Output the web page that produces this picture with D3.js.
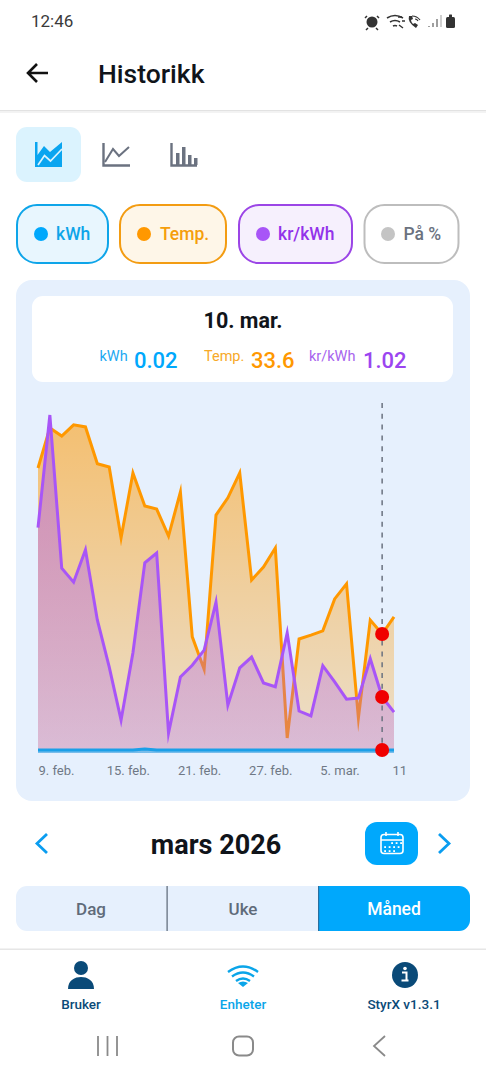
<!DOCTYPE html>
<html>
<head>
<meta charset="utf-8">
<script src="https://cdn.jsdelivr.net/npm/d3@7"></script>
<style>
  html, body { margin: 0; padding: 0; background: #fff; }
  svg { display: block; }
  text { font-family: Roboto, sans-serif; }
</style>
</head>
<body>
<svg width="486" height="1080"></svg>
<script>
// chart data
const days = ["9. feb.","10. feb.","11. feb.","12. feb.","13. feb.","14. feb.","15. feb.","16. feb.","17. feb.","18. feb.",
  "19. feb.","20. feb.","21. feb.","22. feb.","23. feb.","24. feb.","25. feb.","26. feb.","27. feb.","28. feb.",
  "1. mar.","2. mar.","3. mar.","4. mar.","5. mar.","6. mar.","7. mar.","8. mar.","9. mar.","10. mar.","11. mar."];
const temp = [80.9,92.3,90.0,93.2,92.6,82.1,81.2,61.0,79.5,70.1,69.2,61.5,74.1,32.8,23.6,67.5,72.4,79.5,49.0,52.7,58.1,4.0,32.2,33.3,34.5,43.6,47.9,9.7,37.6,33.6,38.5];
const price = [4.16,6.25,3.41,3.15,3.75,2.45,1.58,0.59,1.84,3.51,3.69,0.35,1.39,1.61,1.89,2.78,0.87,1.56,1.76,1.28,1.21,2.21,0.76,0.67,1.60,1.30,0.98,1.00,1.73,1.02,0.74];
const kwh = [0.02,0.02,0.02,0.02,0.02,0.02,0.02,0.02,0.02,0.03,0.02,0.02,0.02,0.02,0.02,0.02,0.02,0.02,0.02,0.02,0.02,0.02,0.02,0.02,0.02,0.02,0.02,0.02,0.02,0.02,0.02];
const tickDays = ["9. feb.","15. feb.","21. feb.","27. feb.","5. mar.","11. mar."];
const tickLabels = ["9. feb.","15. feb.","21. feb.","27. feb.","5. mar.","11"];
const selectedDay = "10. mar.";

const svg = d3.select("svg");

const BLUE = "#00a8fc", ORANGE = "#ff9800", PURPLE = "#a855f7", GREY = "#6b7280", NAVY = "#0a4a78";

function label(x, y, str, size, weight, fill, anchor) {
  return svg.append("text").attr("x", x).attr("y", y).text(str)
    .attr("font-size", size).attr("font-weight", weight).attr("fill", fill)
    .attr("text-anchor", anchor || "start");
}
function box(x, y, w, h, r, fill, stroke) {
  return svg.append("rect").attr("x", x).attr("y", y).attr("width", w).attr("height", h)
    .attr("rx", r).attr("fill", fill).attr("stroke", stroke || "none").attr("stroke-width", 2);
}
function icon(d, fill, stroke, sw) {
  return svg.append("path").attr("d", d).attr("fill", fill || "none")
    .attr("stroke", stroke || "none").attr("stroke-width", sw || 0);
}

// status bar
label(31, 27, "12:46", 17, 400, "#3a3a3a");
const st = "#333";
svg.append("circle").attr("cx", 372).attr("cy", 22).attr("r", 5.5).attr("fill", st);
icon("M367 16l-2 2M377 16l2 2M368 28l-2 2M376 28l2 2", "none", st, 1.5);
icon("M387 18q8-5 16 0M390 22q5-3 10 0M393 26q2-1 4 0", "none", st, 1.6);
icon("M398 17h4M399 25l4 3M402 21h3", "none", st, 1.4);
icon("M409 16q-2 6 7 12l2-3-3-2-2 1q-2-2-2-4l2-1-1-3z", st);
icon("M412 16q5 0 8 4M415 19q2 0 3 2", "none", st, 1.2);
icon("M429 26v1M433 23v4M437 19v8", "none", "#777", 1.4);
icon("M441 15v12", "none", "#bbb", 1.4);
box(446, 17, 9, 11, 1.5, st);
box(449, 14.5, 3, 3, 0.5, st);

// header
icon("M48 73H28M37 64l-9 9 9 9", "none", "#111", 2.6);
label(98, 83, "Historikk", 26.5, 500, "#10141a");
svg.append("rect").attr("x", 0).attr("y", 110).attr("width", 486).attr("height", 1.5).attr("fill", "#e2e2e2");
svg.append("rect").attr("x", 0).attr("y", 111.5).attr("width", 486).attr("height", 1.5).attr("fill", "#f3f3f3");

// chart type buttons
box(16, 127, 65, 55, 11, "#dbf3fe");
icon("M35 142h2.500v13l6.500-9 6 6 12-10v25H35z", "#0aa5f0");
icon("M38 165l6.500-9.500 6 5.500 11.500-12", "none", "#dbf3fe", 1.700);
icon("M103.500 143v22.500H130", "none", GREY, 2.4);
icon("M105 162l8-13 6 7 10-9", "none", GREY, 2);
icon("M171.500 143v22.500H197", "none", GREY, 2.4);
[[176, 153], [182, 147], [188, 155], [194, 158]].forEach(b => {
  svg.append("rect").attr("x", b[0]).attr("y", b[1]).attr("width", 3.500).attr("height", 165 - b[1]).attr("fill", GREY);
});

// series pills
const pills = [
  { x: 17, w: 91, stroke: "#0ea5e9", fill: "#e8f6fe", dot: BLUE, cx: 41, tx: 56, text: "kWh", color: "#0ea5e9" },
  { x: 120, w: 106, stroke: "#f39c12", fill: "#fef6e8", dot: ORANGE, cx: 144, tx: 160, text: "Temp.", color: "#f59e0b" },
  { x: 239, w: 113, stroke: "#9b45e6", fill: "#f6f0fd", dot: PURPLE, cx: 263, tx: 278, text: "kr/kWh", color: "#9333ea" },
  { x: 364.500, w: 94, stroke: "#bdbdbd", fill: "#fff", dot: "#c4c4c4", cx: 388, tx: 403.500, text: "På %", color: GREY }
];
pills.forEach(p => {
  box(p.x, 205, p.w, 58, 20, p.fill, p.stroke);
  svg.append("circle").attr("cx", p.cx).attr("cy", 234).attr("r", 7).attr("fill", p.dot);
  label(p.tx, 240, p.text, 17.5, 500, p.color);
});

// chart panel
box(16, 280, 454, 521, 16, "#e6f0fd");
box(32, 296, 421, 86, 11, "#fff");
label(243, 328, selectedDay, 21.5, 700, "#10141a", "middle");
label(99.500, 361, "kWh", 14.5, 400, "#1da9f2");
label(134, 368, "0.02", 22, 500, BLUE);
label(204, 361, "Temp.", 14.5, 400, "#f7a928");
label(251, 368, "33.6", 22, 500, ORANGE);
label(309, 361, "kr/kWh", 14.5, 400, "#a764ee");
label(363, 368, "1.02", 22, 500, "#9b45f0");

// scales: every series has its own y axis, sharing the same pixel range
const x = d3.scalePoint().domain(days).range([38, 394]);
const yTemp = d3.scaleLinear().domain([0, 96]).range([752, 415]);
const yPrice = d3.scaleLinear().domain([0, 6.25]).range([752, 415]);
const yKwh = d3.scaleLinear().domain([0, 3.37]).range([752, 415]);

const defs = svg.append("defs");
function gradient(id, color, top, bottom) {
  const g = defs.append("linearGradient").attr("id", id).attr("gradientUnits", "userSpaceOnUse")
    .attr("x1", 0).attr("x2", 0).attr("y1", 415).attr("y2", 752);
  g.append("stop").attr("offset", 0).attr("stop-color", color).attr("stop-opacity", top);
  g.append("stop").attr("offset", 1).attr("stop-color", color).attr("stop-opacity", bottom);
}
gradient("gradTemp", ORANGE, 0.56, 0.2);
gradient("gradPrice", PURPLE, 0.5, 0.25);
gradient("gradKwh", "#38bdf8", 0.6, 0.6);

function drawSeries(values, y, grad, color) {
  const area = d3.area().x((d, i) => x(days[i])).y0(753).y1(d => y(d));
  const line = d3.line().x((d, i) => x(days[i])).y(d => y(d));
  svg.append("path").datum(values).attr("d", area).attr("fill", `url(#${grad})`);
  svg.append("path").datum(values).attr("d", line).attr("fill", "none")
    .attr("stroke", color).attr("stroke-width", 3)
    .attr("stroke-linejoin", "miter").attr("stroke-miterlimit", 10);
}
drawSeries(temp, yTemp, "gradTemp", ORANGE);
drawSeries(price, yPrice, "gradPrice", PURPLE);
drawSeries(kwh, yKwh, "gradKwh", "#1a9fe8");

// x axis
const axis = svg.append("g").attr("transform", "translate(0,763)")
  .call(d3.axisBottom(x).tickValues(tickDays).tickSize(0).tickPadding(3)
    .tickFormat(d => tickLabels[tickDays.indexOf(d)]));
axis.select(".domain").remove();
axis.selectAll("text")
  .attr("text-anchor", "start")
  .attr("dx", (d, i) => i === 0 ? 0 : i === tickDays.length - 1 ? -2 : -3)
  .attr("font-size", 13)
  .attr("font-family", "Roboto, sans-serif")
  .attr("fill", "#6f7885");

// selected day marker
const sel = days.indexOf(selectedDay);
svg.append("line").attr("x1", x(selectedDay)).attr("x2", x(selectedDay)).attr("y1", 403).attr("y2", 750)
  .attr("stroke", GREY).attr("stroke-width", 1.500).attr("stroke-dasharray", "5 5.800");
svg.selectAll("circle.dot")
  .data([yTemp(temp[sel]), yPrice(price[sel]), yKwh(kwh[sel])])
  .join("circle").attr("class", "dot")
  .attr("cx", x(selectedDay)).attr("cy", d => d).attr("r", 7).attr("fill", "#f00000");

// month navigation
icon("M47 834l-10 9.500 10 9.500", "none", "#0a9df0", 2.800);
label(216, 854, "mars 2026", 27, 700, "#10141a", "middle");
box(365, 822, 53, 43, 12, BLUE);
box(381, 834.500, 22, 19, 3, "none", "#fff").attr("stroke-width", 1.600);
icon("M381 840h22M386 832v4M398 832v4", "none", "#fff", 1.600);
[[392, 843], [396.500, 843], [401, 843], [385, 847], [389.500, 847], [394, 847], [398.500, 847], [385, 851], [389.500, 851], [394, 851]].forEach(d => {
  svg.append("rect").attr("x", d[0] - 0.8).attr("y", d[1] - 0.8).attr("width", 1.800).attr("height", 1.800).attr("fill", "#fff");
});
icon("M439 834l10 9.500-10 9.500", "none", "#0a9df0", 2.800);

// period selector
box(16, 886, 454, 45, 11, "#e6f0fd");
svg.append("path").attr("d", "M318 886H459a11 11 0 0 1 11 11v23a11 11 0 0 1-11 11H318z").attr("fill", BLUE);
svg.append("rect").attr("x", 166.500).attr("y", 886).attr("width", 1.200).attr("height", 45).attr("fill", "#5b6675");
svg.append("rect").attr("x", 318).attr("y", 886).attr("width", 1.200).attr("height", 45).attr("fill", "#2a6f9e");
label(91, 915, "Dag", 17, 500, "#5f6b7a", "middle");
label(243, 915, "Uke", 17, 500, "#5f6b7a", "middle");
label(394, 915, "Måned", 17.5, 500, "#fff", "middle");

// bottom tabs
svg.append("rect").attr("x", 0).attr("y", 948.500).attr("width", 486).attr("height", 1.500).attr("fill", "#e6e6e6");
svg.append("circle").attr("cx", 81).attr("cy", 968).attr("r", 7).attr("fill", NAVY);
icon("M68 989c0-9 7-12 13-12s13 3 13 12z", NAVY);
label(81, 1009, "Bruker", 13.5, 500, NAVY, "middle");
icon("M228 972q15-11 30 0M232 976.500q11-8 22 0M236 981q7-5 14 0", "none", "#0aa5e9", 2.400);
icon("M243 987l-5-4q5-3 10 0z", "#0aa5e9");
label(243, 1009, "Enheter", 13.5, 500, "#0aa5e9", "middle");
svg.append("circle").attr("cx", 405).attr("cy", 975).attr("r", 13).attr("fill", NAVY);
svg.append("circle").attr("cx", 405).attr("cy", 968.500).attr("r", 1.800).attr("fill", "#fff");
icon("M402 972.500h4.500v8h2M401.500 980.500h7", "none", "#fff", 2);
label(404, 1009, "StyrX v1.3.1", 13.5, 500, NAVY, "middle");

// android nav bar
icon("M98 1036v20M107.500 1036v20M117 1036v20", "none", "#8a8a8a", 1.800);
box(233, 1036.500, 20, 19, 6, "none", "#8a8a8a");
icon("M385 1036l-11 10 11 10", "none", "#8a8a8a", 1.800);
</script>
</body>
</html>
